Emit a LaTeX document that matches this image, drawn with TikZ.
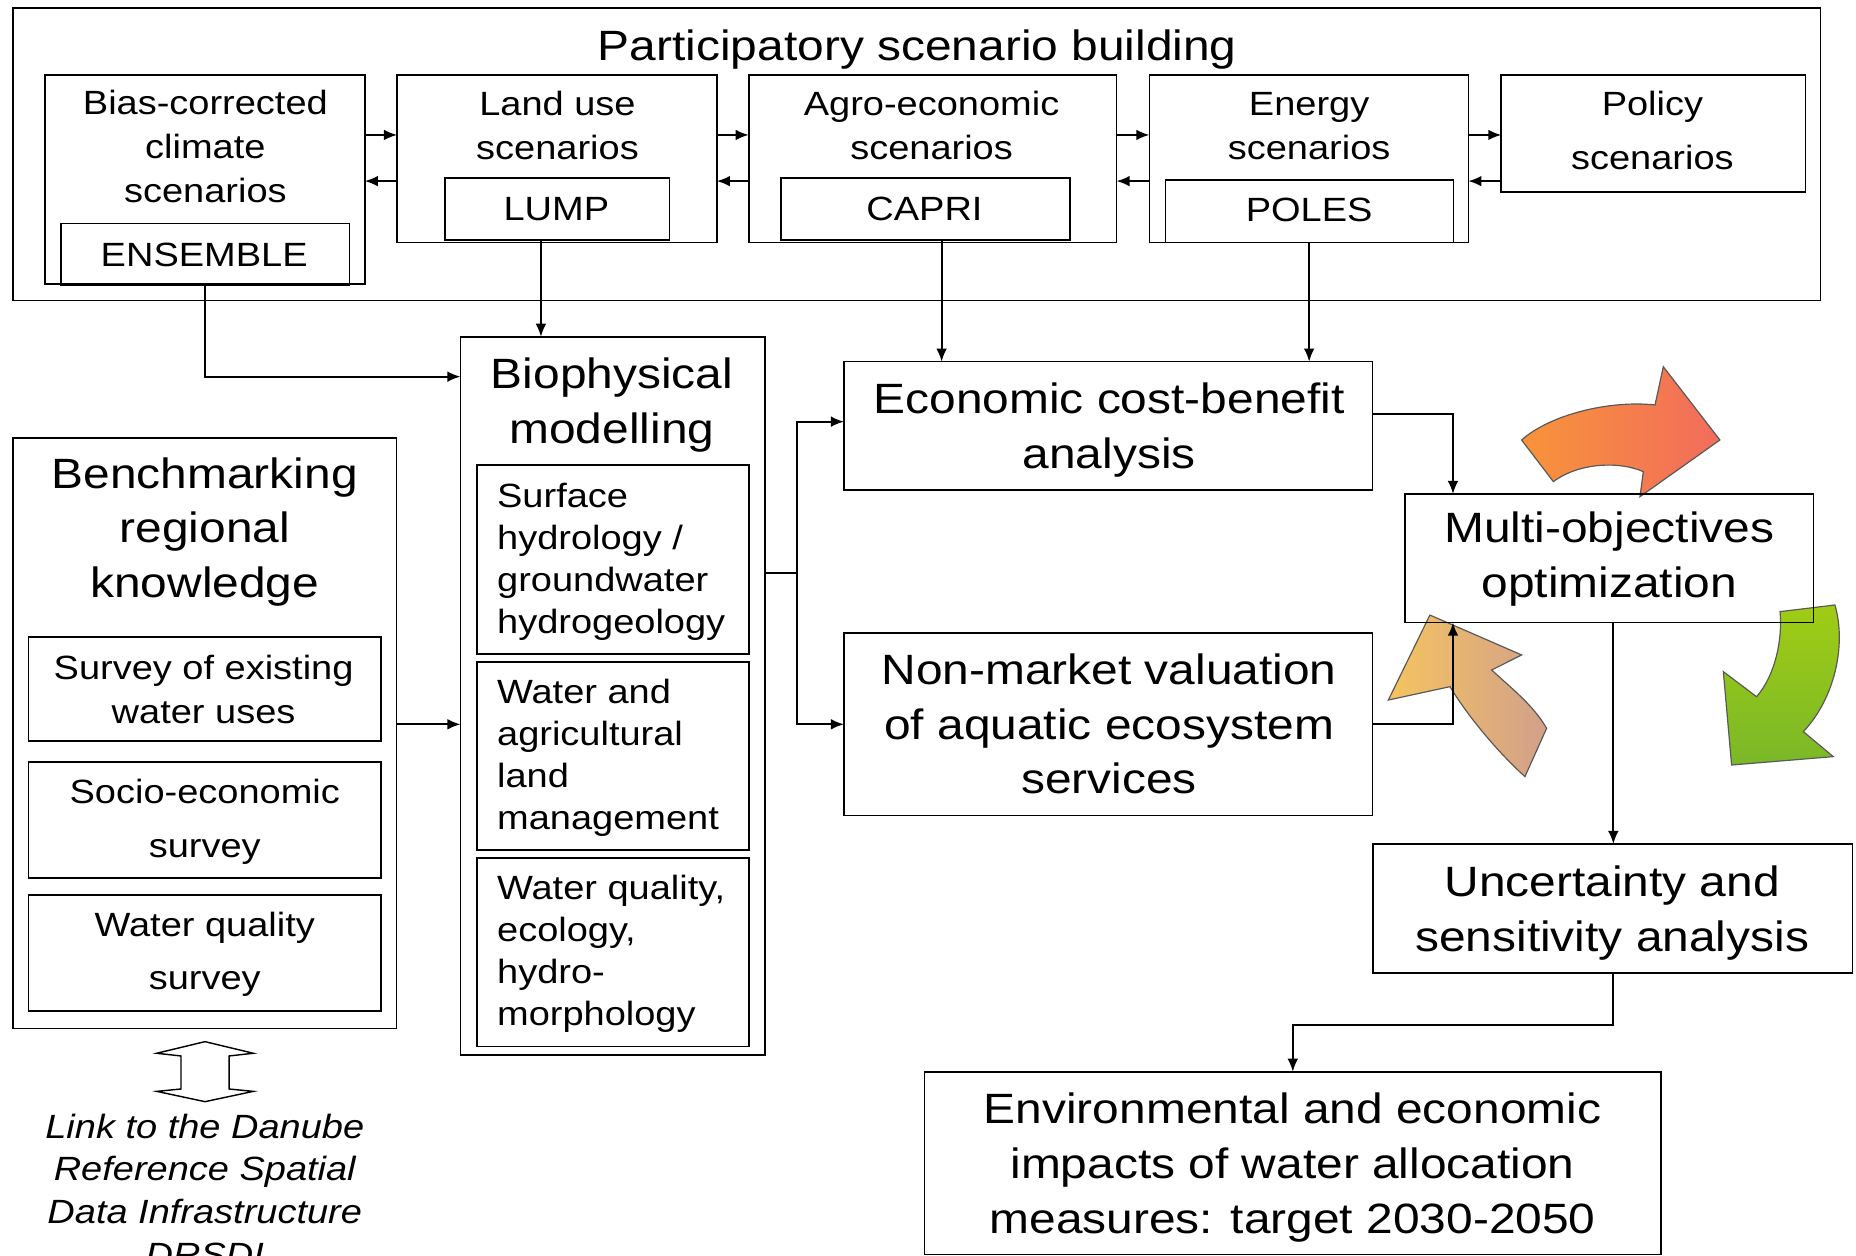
\documentclass[tikz,border=0pt]{standalone}
\usepackage{fontspec}
\setmainfont{Liberation Sans}[FakeStretch=1.13]
\usetikzlibrary{fit,arrows.meta}
\begin{document}
\begin{tikzpicture}[x=0.5pt,y=-0.5pt,
  box/.style={draw, line width=0.7pt, inner sep=0pt, outer sep=0pt},
  arr/.style={line width=0.75pt, -{Latex[length=5.5pt,width=4.5pt]}},
  ln/.style={line width=0.75pt},
  sm/.style={font=\fontsize{14.2}{18.5}\selectfont, align=center, inner sep=0pt},
  smw/.style={font=\fontsize{14.2}{22.5}\selectfont, align=center, inner sep=0pt},
  smL/.style={font=\fontsize{14.2}{17.75}\selectfont, align=left, inner sep=0pt, anchor=west},
  smI/.style={font=\fontsize{14.2}{18}\selectfont\itshape, align=center, inner sep=0pt},
  lg/.style={font=\fontsize{17.9}{23}\selectfont, align=center, inner sep=0pt},
  blockarrow/.style={draw=black!65, line width=0.5pt}
]
\useasboundingbox (0,0) rectangle (1568,1061);
\clip (0,0) rectangle (1568,1061);
\fill[white] (0,0) rectangle (1568,1061);

% ---------- curved block arrows (behind) ----------
\shadedraw[blockarrow, left color={rgb,255:red,248;green,148;blue,58}, right color={rgb,255:red,242;green,108;blue,92}]
  (1285.5,371.7) .. controls (1310,350) and (1360,338) .. (1398.2,342.1)
  -- (1405.2,309.8) -- (1453,371.7) -- (1385.5,419.6) -- (1388.3,398.5)
  .. controls (1370,390) and (1335,390) .. (1312.3,406.9) -- cycle;
\shadedraw[blockarrow, top color={rgb,255:red,160;green,204;blue,20}, bottom color={rgb,255:red,122;green,184;blue,40}]
  (1503.8,516.7) -- (1550.2,511.1)
  .. controls (1560,545) and (1550,590) .. (1523.5,618.1)
  -- (1548.8,639.2) -- (1462.9,646.3) -- (1455.9,567.4) -- (1484,588.6)
  .. controls (1500,570) and (1506,540) .. cycle;
\shadedraw[blockarrow, left color={rgb,255:red,245;green,196;blue,96}, right color={rgb,255:red,210;green,160;blue,138}]
  (1306.6,615.3) -- (1288.3,656.1)
  .. controls (1265,635) and (1240,605) .. (1225,580.1)
  -- (1172.9,591.4) -- (1208,519.6) -- (1285.5,553.3) -- (1260.2,566)
  .. controls (1275,580) and (1295,595) .. cycle;

% ---------- participatory scenario building ----------
\node[box, fit={(10.8,7) (1538,254)}] (psb) {};
\node[lg, anchor=base] (psb-t) at (775,50.7) {Participatory scenario building};

\node[box, fit={(37.9,63.4) (308.2,240)}] (bias) {};
\node[box, fit={(51.7,188.7) (295.3,240.8)}] (ens) {};
\node[sm] (bias-t) at (173.5,123.8) {Bias-corrected\\climate\\scenarios};
\node[sm, anchor=base] (ens-t) at (172.5,225.3) {ENSEMBLE};

\node[box, fit={(335.4,63.4) (605.6,205)}] (land) {};
\node[box, fit={(375.9,150.6) (565.5,202.8)}] (lump) {};
\node[sm] (land-t) at (471,106.3) {Land use\\scenarios};
\node[sm, anchor=base] (lump-t) at (470,186) {LUMP};

\node[box, fit={(632.5,63.4) (943.3,205)}] (agro) {};
\node[box, fit={(660,150.6) (903.8,202.8)}] (capri) {};
\node[sm] (agro-t) at (787,106.3) {Agro-economic\\scenarios};
\node[sm, anchor=base] (capri-t) at (781,186) {CAPRI};

\node[box, fit={(971,63.4) (1240.5,205)}] (energy) {};
\node[box, fit={(984.7,152) (1228,205)}] (poles) {};
\node[sm] (energy-t) at (1106,106.3) {Energy\\scenarios};
\node[sm, anchor=base] (poles-t) at (1106,187.5) {POLES};

\node[box, fit={(1268.3,63.4) (1525.3,162)}] (policy) {};
\node[smw] (policy-t) at (1396,110.3) {Policy\\scenarios};

\coordinate (ra) at (0,114);
\coordinate (la) at (0,153);
\draw[arr] (bias.east |- ra) -- (land.west |- ra);
\draw[arr] (land.west |- la) -- (bias.east |- la);
\draw[arr] (land.east |- ra) -- (agro.west |- ra);
\draw[arr] (agro.west |- la) -- (land.east |- la);
\draw[arr] (agro.east |- ra) -- (energy.west |- ra);
\draw[arr] (energy.west |- la) -- (agro.east |- la);
\draw[arr] (energy.east |- ra) -- (policy.west |- ra);
\draw[arr] (policy.west |- la) -- (energy.east |- la);

% ---------- biophysical modelling ----------
\node[box, fit={(389,284.5) (646.3,891)}] (bio) {};
\node[lg] (bio-t) at (517,342) {Biophysical\\modelling};
\node[box, fit={(402.7,392.8) (633,552.5)}] (surf) {};
\node[box, fit={(402.7,559) (633,718)}] (wam) {};
\node[box, fit={(402.7,725) (633,884)}] (wqe) {};
\node[smL] (surf-t) at (419.6,474.9) {Surface\\hydrology /\\groundwater\\hydrogeology};
\node[smL] (wam-t) at (419.6,640) {Water and\\agricultural\\land\\management};
\node[smL] (wqe-t) at (419.6,806.1) {Water quality,\\ecology,\\hydro-\\morphology};

% ---------- benchmarking ----------
\node[box, fit={(10.8,370) (335,869)}] (bench) {};
\node[lg] (bench-t) at (173,449.4) {Benchmarking\\regional\\knowledge};
\node[box, fit={(24,538) (322,626)}] (survey) {};
\node[sm] (survey-t) at (172,582.3) {Survey of existing\\water uses};
\node[box, fit={(24,644) (322,742)}] (socio) {};
\node[smw] (socio-t) at (173,694.3) {Socio-economic\\survey};
\node[box, fit={(24,756) (322,854)}] (wqs) {};
\node[smw] (wqs-t) at (173,806.3) {Water quality\\survey};

\draw[line width=0.6pt, fill=white] (173.2,880) -- (214,889.8) -- (193.5,892.1) -- (193.5,920)
  -- (214,922) -- (173.2,930.7) -- (132.4,922) -- (152.9,920) -- (152.9,892.1) -- (132.4,889.8) -- cycle;
\node[smI] (link-t) at (173,1005.4) {Link to the Danube\\Reference Spatial\\Data Infrastructure\\DRSDI};

% ---------- economics ----------
\node[box, fit={(713,305.5) (1159.6,414)}] (econ) {};
\node[lg] (econ-t) at (937,363.3) {Economic cost-benefit\\analysis};
\node[box, fit={(713,535) (1159.6,689)}] (nmv) {};
\node[lg] (nmv-t) at (937,611.6) {Non-market valuation\\of aquatic ecosystem\\services};

\node[box, fit={(1187,417.3) (1532,526)}] (moo) {};
\node[lg] (moo-t) at (1359.5,472.3) {Multi-objectives\\optimization};

\node[box, fit={(1160,713) (1565,822)}] (unc) {};
\node[lg] (unc-t) at (1362,771.3) {Uncertainty and\\sensitivity analysis};

\node[box, fit={(781,905.4) (1403.3,1059.7)}] (env) {};
\node[lg, font=\fontsize{17.9}{23.25}\selectfont] (env-t) at (1092,986.6) {Environmental and economic\\impacts of water allocation\\measures: target 2030-2050};

% ---------- connectors ----------
\coordinate (xl) at (457,0);
\coordinate (xc) at (795.5,0);
\coordinate (xp) at (1106,0);
\coordinate (ye) at (0,318.2);
\coordinate (yb) at (0,611.9);
\coordinate (xb) at (673,0);
\coordinate (yb2) at (0,484.4);
\coordinate (y1) at (0,356.2);
\coordinate (xm) at (1227.5,0);
\coordinate (ye2) at (0,349.8);
\coordinate (xu) at (1363,0);
\coordinate (yu) at (0,866);
\coordinate (xe) at (1092.2,0);

\draw[arr] (ens.south) |- (bio.west |- ye);
\draw[arr] (lump.south -| xl) -- (bio.north -| xl);
\draw[arr] (capri.south -| xc) -- (econ.north -| xc);
\draw[arr] (poles.south -| xp) -- (econ.north -| xp);
\draw[arr] (bench.east |- yb) -- (bio.west |- yb);
\draw[arr] (bio.east |- yb2) -| (xb |- y1) -- (econ.west |- y1);
\draw[arr] (xb |- yb2) |- (nmv.west |- yb);
\draw[arr] (econ.east |- ye2) -| (moo.north -| xm);
\draw[arr] (nmv.east |- yb) -| (moo.south -| xm);
\draw[arr] (moo.south -| xu) -- (unc.north -| xu);
\draw[arr] (unc.south -| xu) |- (xe |- yu) -- (env.north -| xe);
\end{tikzpicture}
\end{document}
